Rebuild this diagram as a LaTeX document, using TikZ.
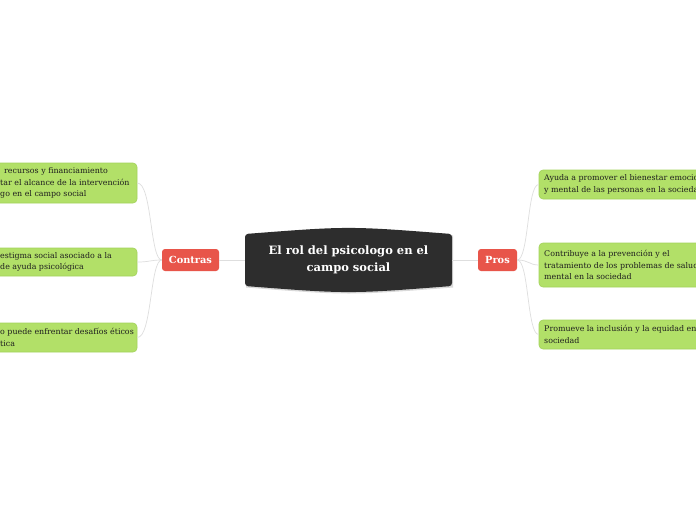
\documentclass[tikz,border=0pt]{standalone}
\usepackage{fontspec}
\setmainfont{DejaVu Serif}
\definecolor{leafgreen}{RGB}{178,224,104}
\definecolor{leafborder}{RGB}{163,210,92}
\definecolor{tagred}{RGB}{232,85,74}
\definecolor{centerdark}{RGB}{45,45,45}
\definecolor{linegrey}{RGB}{222,222,222}
\begin{document}
\begin{tikzpicture}[x=1pt,y=-1pt,
  leafbox/.style={fill=leafgreen, draw=leafborder, line width=0.6pt, rounded corners=4pt, inner sep=0pt},
  leaftext/.style={anchor=west, align=left, font=\fontsize{7.9}{11.5}\selectfont, text=black!88, inner sep=0pt},
  tag/.style={fill=tagred, rounded corners=3pt, text=white, font=\bfseries\fontsize{9.8}{11}\selectfont, inner sep=0pt},
  conn/.style={draw=linegrey, line width=0.7pt}]
\useasboundingbox (0,0) rectangle (696,520);
\fill[white] (0,0) rectangle (696,520);
\clip (0,0) rectangle (696,520);
% central topic
\fill[black!15] (246,235.5) .. controls (348.5,227.5) .. (453,235.5) -- (453,287.5) .. controls (348.5,295.5) .. (246,287.5) -- cycle;
\fill[centerdark, rounded corners=3pt] (245,234) .. controls (348.5,226) .. (452,234) -- (452,286) .. controls (348.5,294) .. (245,286) -- cycle;
\node[minimum width=207pt, minimum height=52pt, inner sep=0pt, align=center, text=white,
      font=\bfseries\fontsize{11.5}{17}\selectfont] (C) at (348.5,260) {El rol del psicologo en el\\campo social};
% main topics
\node[tag, minimum width=57pt, minimum height=22pt] (contras) at (190.5,260) {Contras};
\node[tag, minimum width=39pt, minimum height=22pt] (pros) at (497.5,260) {Pros};
% left leaves
\node[leafbox, minimum width=167pt, minimum height=40pt] (L1) at (53.5,183) {};
\node[leafbox, minimum width=167pt, minimum height=28pt] (L2) at (53.5,262) {};
\node[leafbox, minimum width=167pt, minimum height=29pt] (L3) at (53.5,337.5) {};
\node[leaftext] (L1t) at (0,183) {\hspace*{4pt}recursos y financiamiento\\tar el alcance de la intervención\\go en el campo social};
\node[leaftext] (L2t) at (0,262) {estigma social asociado a la\\de ayuda psicológica};
\node[leaftext] (L3t) at (0,337.5) {o puede enfrentar desafíos éticos\\tica};
% right leaves
\node[leafbox, minimum width=191pt, minimum height=29pt] (R1) at (634.5,184.5) {};
\node[leafbox, minimum width=191pt, minimum height=44pt] (R2) at (634.5,265) {};
\node[leafbox, minimum width=191pt, minimum height=29pt] (R3) at (634.5,334.5) {};
\node[leaftext] (R1t) at (544,184.5) {Ayuda a promover el bienestar emocional\\y mental de las personas en la sociedad};
\node[leaftext] (R2t) at (544,265) {Contribuye a la prevención y el\\tratamiento de los problemas de salud\\mental en la sociedad};
\node[leaftext] (R3t) at (544,334.5) {Promueve la inclusión y la equidad en la\\sociedad};
% connectors
\draw[conn] (C.west) -- (contras.east);
\draw[conn] (C.east) -- (pros.west);
\draw[conn] (contras.west) .. controls (150,260) and (152,183) .. (L1.east);
\draw[conn] (contras.west) .. controls (150,260) and (150,262) .. (L2.east);
\draw[conn] (contras.west) .. controls (150,260) and (152,337.5) .. (L3.east);
\draw[conn] (pros.east) .. controls (529,260) and (527,184.5) .. (R1.west);
\draw[conn] (pros.east) .. controls (529,260) and (529,265) .. (R2.west);
\draw[conn] (pros.east) .. controls (529,260) and (527,334.5) .. (R3.west);
\end{tikzpicture}
\end{document}
